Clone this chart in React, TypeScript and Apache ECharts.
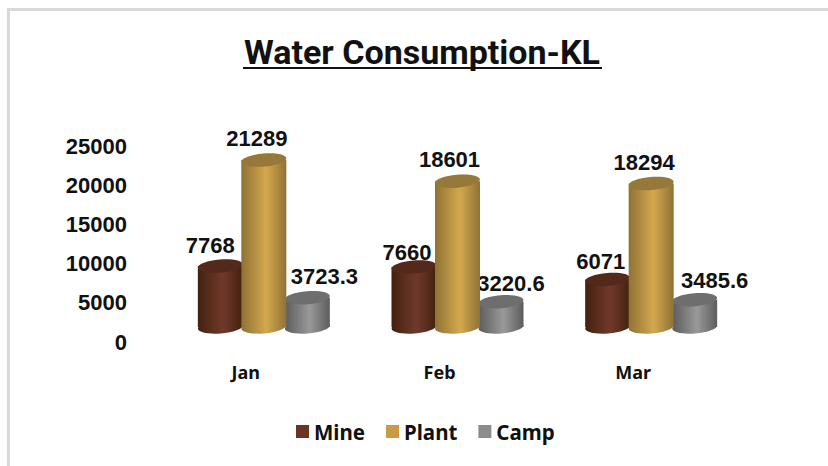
import React, { useEffect, useRef } from "react";
import * as echarts from "echarts";

const categories = ["Jan", "Feb", "Mar"];
const mine = [7768, 7660, 6071];
const plant = [21289, 18601, 18294];
const camp = [3723.3, 3220.6, 3485.6];
const yTicks = { min: 0, max: 25000, interval: 5000 };

// Layout only: pixel nudges of the hand-placed data labels in the reference
const mineNudge = [[-10, -21], [-7, -14], [-7, -18]];
const plantNudge = [[-7, -22], [-8, -22], [-7, -21]];
const campNudge = [[17, -21], [10, -18], [20, -19]];

const LABEL_FONT = "'Liberation Sans', Arial, sans-serif";
const UI_FONT = "'Noto Sans', sans-serif";

const RX = 22.5;
const RY = 6.5;
const DEPTH_X = 18;
const DEPTH_Y = -15;
const TILT = 0.08;

function makeRender(slot: number, edge: string, mid: string, top: string, nudges: number[][]) {
  return (_params: any, api: any) => {
    const idx = api.value(0);
    const val = api.value(1);
    const tip = api.coord([idx, val]);
    const base = api.coord([idx, 0]);
    const cx = tip[0] + DEPTH_X + slot * 43.5;
    const yTop = tip[1] + DEPTH_Y;
    const yBase = base[1] + DEPTH_Y;
    const body = new echarts.graphic.LinearGradient(0, 0, 1, 0, [
      { offset: 0, color: edge },
      { offset: 0.55, color: mid },
      { offset: 1, color: edge },
    ]);
    const n = nudges[idx];
    return {
      type: "group",
      children: [
        {
          type: "ellipse",
          x: cx,
          y: yBase,
          rotation: TILT,
          shape: { cx: 0, cy: 0, rx: RX, ry: RY },
          style: { fill: body },
        },
        {
          type: "rect",
          shape: { x: cx - RX, y: yTop, width: RX * 2, height: yBase - yTop },
          style: { fill: body },
        },
        {
          type: "ellipse",
          x: cx,
          y: yTop,
          rotation: TILT,
          shape: { cx: 0, cy: 0, rx: RX, ry: RY },
          style: { fill: top },
        },
        {
          type: "text",
          x: cx + n[0],
          y: yTop + n[1],
          style: {
            text: String(val),
            fill: "#111111",
            fontFamily: LABEL_FONT,
            fontWeight: "bold",
            fontSize: 22,
            align: "center",
            verticalAlign: "middle",
          },
        },
      ],
    };
  };
}

function toData(values: number[]) {
  return values.map((v, i) => [i, v]);
}

export default function App() {
  const ref = useRef<HTMLDivElement>(null);
  useEffect(() => {
    const chart = echarts.init(ref.current!, undefined, { renderer: "svg" });
    chart.setOption({
      animation: false,
      backgroundColor: "#ffffff",
      title: {
        text: "Water Consumption-KL",
        left: 417,
        top: 30,
        textAlign: "center",
        textStyle: { fontFamily: "Roboto, sans-serif", fontWeight: "bold", fontSize: 34, color: "#111111" },
      },
      legend: {
        left: 291,
        top: 416,
        icon: "rect",
        itemWidth: 13,
        itemHeight: 13,
        itemGap: 21,
        data: ["Mine", "Plant", "Camp"],
        textStyle: { fontFamily: UI_FONT, fontWeight: "bold", fontSize: 20.5, color: "#111111" },
      },
      grid: { left: 149, right: 98, top: 146, bottom: 124 },
      xAxis: {
        type: "category",
        data: categories,
        axisLine: { show: false },
        axisTick: { show: false },
        axisLabel: { margin: 21, fontFamily: UI_FONT, fontWeight: "bold", fontSize: 18, color: "#111111" },
      },
      yAxis: {
        type: "value",
        ...yTicks,
        axisLine: { show: false },
        axisTick: { show: false },
        splitLine: { show: false },
        axisLabel: {
          margin: 22,
          fontFamily: LABEL_FONT,
          fontWeight: "bold",
          fontSize: 22,
          color: "#111111",
          padding: [0, 0, 2, 0],
          formatter: (v: number) => String(v),
        },
      },
      graphic: [
        {
          type: "rect",
          silent: true,
          shape: { x: 8.5, y: 9.5, width: 840, height: 480 },
          style: { fill: "none", stroke: "#d9d9d9", lineWidth: 3 },
        },
        {
          type: "rect",
          silent: true,
          shape: { x: 243, y: 67, width: 359, height: 2 },
          style: { fill: "#111111" },
        },
      ],
      series: [
        {
          name: "Mine",
          type: "custom",
          z: 2,
          clip: false,
          itemStyle: { color: "#6b3423" },
          data: toData(mine),
          encode: { x: 0, y: 1 },
          renderItem: makeRender(-1, "#43210f", "#70392a", "#52291a", mineNudge),
        },
        {
          name: "Plant",
          type: "custom",
          z: 4,
          clip: false,
          itemStyle: { color: "#c99b45" },
          data: toData(plant),
          encode: { x: 0, y: 1 },
          renderItem: makeRender(0, "#8f7235", "#d4a84e", "#96793a", plantNudge),
        },
        {
          name: "Camp",
          type: "custom",
          z: 3,
          clip: false,
          itemStyle: { color: "#8c8c8c" },
          data: toData(camp),
          encode: { x: 0, y: 1 },
          renderItem: makeRender(1, "#5c5c5c", "#999999", "#6e6e6e", campNudge),
        },
      ],
    });
    return () => chart.dispose();
  }, []);
  return (
    <div
      ref={ref}
      style={{ position: "absolute", left: 0, top: 0, width: 828, height: 466 }}
    />
  );
}
